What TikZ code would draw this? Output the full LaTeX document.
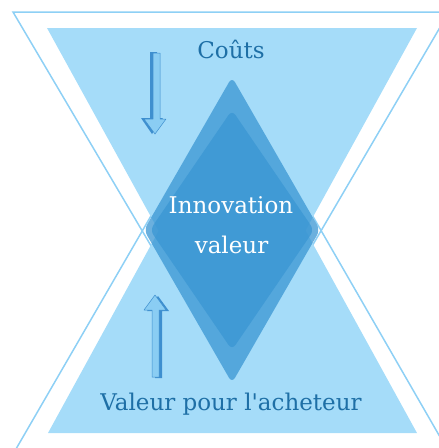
\documentclass[tikz,border=0pt]{standalone}
\usepackage{fontspec}
\newfontfamily\dvserif{DejaVu Serif}
\definecolor{outlc}{HTML}{8ED0F5}
\definecolor{fillc}{HTML}{A5DCF9}
\definecolor{diac}{HTML}{3A96D3}
\definecolor{textc}{HTML}{1E6FA6}
\definecolor{arrlight}{HTML}{8ACDF3}
\definecolor{arrdark}{HTML}{3E8FCF}
\begin{document}
\begin{tikzpicture}[x=1pt,y=-1pt,
  outl/.style={draw=outlc, line width=1.5pt, line join=miter},
  bgfill/.style={fill=fillc},
  dia/.style={fill=diac, fill opacity=0.75, rounded corners=6pt},
  lbl/.style={font=\dvserif\fontsize{23}{27}\selectfont, inner sep=0pt, anchor=base},
  arrfront/.style={fill=arrlight, draw=arrdark, line width=0.5pt, line join=round},
  arrback/.style={fill=arrdark, line join=round},
]
\useasboundingbox (0,0) rectangle (439,448);
% outline triangles
\draw[outl] (13,12) -- (449,12) -- (232,383) -- cycle;
\draw[outl] (16,449) -- (447,449) -- (232,76) -- cycle;
% filled triangles
\fill[bgfill] (47,28) -- (417,28) -- (232,364) -- cycle;
\fill[bgfill] (48,433) -- (417,433) -- (232,97) -- cycle;
% diamond
\fill[dia] (232,77) -- (320,230) -- (232,383) -- (144,230) -- cycle;
\fill[dia] (232,110) -- (314,230) -- (232,350) -- (150,230) -- cycle;
% down arrow
\fill[arrback] (150,52) -- (157,52) -- (157,118) -- (163,118) -- (152,134) -- (141,118) -- (150,118) -- cycle;
\draw[arrfront] (153,53) -- (160,53) -- (160,119) -- (166,119) -- (155,134) -- (144,119) -- (153,119) -- cycle;
% up arrow
\fill[arrback] (155,378) -- (162,378) -- (162,311) -- (169,311) -- (158,296) -- (147,311) -- (155,311) -- cycle;
\draw[arrfront] (152,377) -- (159,377) -- (159,310) -- (166,310) -- (155,295) -- (144,310) -- (152,310) -- cycle;
% labels
\node[lbl, text=textc] (couts) at (231,58) {Coûts};
\node[lbl, text=white] (innov) at (231,213) {Innovation};
\node[lbl, text=white] (val) at (231.5,253) {valeur};
\node[lbl, text=textc] (acht) at (231,410) {Valeur pour l'acheteur};
\end{tikzpicture}
\end{document}
